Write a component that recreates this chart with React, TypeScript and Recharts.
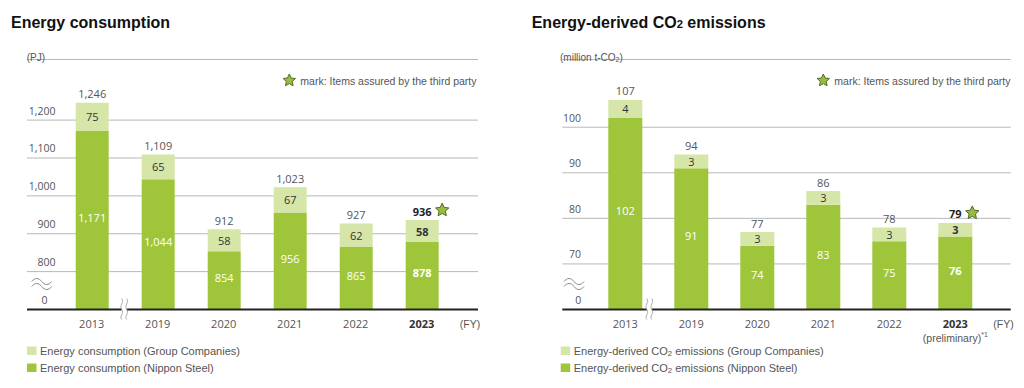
import React from "react"
import { BarChart, Bar, XAxis, YAxis, CartesianGrid, LabelList } from "recharts"

const years = ["2013", "2019", "2020", "2021", "2022", "2023"]

const energyNippon = [1171, 1044, 854, 956, 865, 878]
const energyGroup = [75, 65, 58, 67, 62, 58]
const energyTotal = [1246, 1109, 912, 1023, 927, 936]
const energyTicks = [700, 800, 900, 1000, 1100, 1200]
const energyTickLabels = ["0", "800", "900", "1,000", "1,100", "1,200"]

const co2Nippon = [102, 91, 74, 83, 75, 76]
const co2Group = [4, 3, 3, 3, 3, 3]
const co2Total = [107, 94, 77, 86, 78, 79]
const co2Ticks = [60, 70, 80, 90, 100]
const co2TickLabels = ["0", "70", "80", "90", "100"]

const NIPPON = "#9fc63b"
const GROUP = "#d6e6a9"
const TEXT = "#555"
const NUM_FONT = '"Open Sans", sans-serif'
const SANS = '"Liberation Sans", Arial, sans-serif'

const W = 512
const H = 388
const BASE_Y = 309.5
const TOP_Y = 59.5
const X_AXIS_H = 30
const Y_AXIS_W = 20

const fmt = (n: number) => n.toLocaleString("en-US")

const Star = ({ cx, cy, r = 7 }: { cx: number; cy: number; r?: number }) => {
  const pts: string[] = []
  for (let i = 0; i < 10; i++) {
    const rad = i % 2 === 0 ? r : r * 0.48
    const a = -Math.PI / 2 + (i * Math.PI) / 5
    pts.push(`${cx + rad * Math.cos(a)},${cy + rad * Math.sin(a)}`)
  }
  return <polygon points={pts.join(" ")} fill="#97bb45" stroke="#4f6f1f" strokeWidth={1} strokeLinejoin="round" />
}

// vertical wavy cut on the x axis
const BreakMark = ({ x, y }: { x: number; y: number }) => (
  <g>
    <rect x={x - 2.5} y={y - 3} width={5} height={6} fill="#fff" />
    <path d={`M${x - 2.5},${y - 11} c3,4 -3,7 0,11 c3,4 -3,7 0,10`} fill="none" stroke="#999" strokeWidth={0.8} />
    <path d={`M${x + 2.5},${y - 11} c3,4 -3,7 0,11 c3,4 -3,7 0,10`} fill="none" stroke="#999" strokeWidth={0.8} />
  </g>
)

// horizontal double tilde on the y axis
const AxisBreak = ({ x, y }: { x: number; y: number }) => (
  <g fill="none" stroke="#8a8a8a" strokeWidth={1}>
    <path d={`M${x - 10},${y - 2} c3,-4 7,-4 10,0 s7,4 10,0`} />
    <path d={`M${x - 10},${y + 3} c3,-4 7,-4 10,0 s7,4 10,0`} />
  </g>
)

// "CO2" with a lowered small 2, then the rest of the string back on the baseline
const co2 = (before: string, after: string) => (
  <>
    {before}CO<tspan fontSize="0.7em" dy={2}>2</tspan>
    <tspan dy={-2}>{after}</tspan>
  </>
)

interface PanelProps {
  left: number
  title: React.ReactNode
  unit: React.ReactNode
  nippon: number[]
  group: number[]
  total: number[]
  ticks: number[]
  tickLabels: string[]
  domain: [number, number]
  plotLeft: number
  plotRight: number
  padLeft: number
  padRight: number
  barSize: number
  labelRight: number
  zeroX: number
  tildeX: number
  breakDx: number
  starDx: number
  fyX: number
  markX: number
  titleX: number
  unitX: number
  legendX: number
  legend: [React.ReactNode, React.ReactNode]
  preliminary?: boolean
}

const Panel = (p: PanelProps) => {
  const rows = years.map((year, i) => ({ year, nippon: p.nippon[i], group: p.group[i] }))
  const last = years.length - 1

  const viewOf = (props: any) => props.viewBox ?? props

  const yTick = (props: any) => {
    const { y, payload } = props
    const idx = p.ticks.indexOf(Number(payload.value))
    const label = p.tickLabels[idx]
    if (idx === 0) {
      return (
        <g>
          <AxisBreak x={p.tildeX} y={BASE_Y - 26} />
          <text x={p.zeroX} y={y - 9.5} textAnchor="middle" dominantBaseline="central" fontSize={10.5} fill={TEXT} fontFamily={NUM_FONT}>{label}</text>
        </g>
      )
    }
    return (
      <text x={p.labelRight} y={y - 9.5} textAnchor="end" dominantBaseline="central" fontSize={10.5} fill={TEXT} fontFamily={NUM_FONT}>{label}</text>
    )
  }

  const xTick = (props: any) => {
    const { x, payload } = props
    const isLast = payload.value === years[last]
    return (
      <g>
        <text x={x} y={BASE_Y + 14} textAnchor="middle" dominantBaseline="central" fontSize={11} fontWeight={isLast ? 700 : 400} fill={isLast ? "#333" : TEXT} fontFamily={NUM_FONT}>{payload.value}</text>
        {isLast && p.preliminary && (
          <text x={x} y={BASE_Y + 28} textAnchor="middle" dominantBaseline="central" fontSize={10.5} fill={TEXT} fontFamily={SANS}>
            (preliminary)<tspan fontSize={7} dy={-4}>*1</tspan>
          </text>
        )}
        {payload.value === years[0] && <BreakMark x={x + p.breakDx} y={BASE_Y} />}
      </g>
    )
  }

  const nipponLabel = (props: any) => {
    const { x, y, width, height } = viewOf(props)
    const i = props.index
    const bottom = Math.min(y + height, BASE_Y)
    return (
      <text x={x + width / 2} y={(y + bottom) / 2 - 3} textAnchor="middle" dominantBaseline="central" fontSize={11} fontWeight={i === last ? 700 : 400} fill="#fff" fontFamily={NUM_FONT}>
        {fmt(p.nippon[i])}
      </text>
    )
  }

  const groupLabel = (props: any) => {
    const { x, y, width, height } = viewOf(props)
    const i = props.index
    return (
      <text x={x + width / 2} y={y + height / 2} textAnchor="middle" dominantBaseline="central" fontSize={11} fontWeight={i === last ? 700 : 400} fill="#333" fontFamily={NUM_FONT}>
        {fmt(p.group[i])}
      </text>
    )
  }

  const totalLabel = (props: any) => {
    const { x, y, width } = viewOf(props)
    const i = props.index
    const cx = x + width / 2
    return (
      <g>
        <text x={cx} y={y - 9} textAnchor="middle" dominantBaseline="central" fontSize={11} fontWeight={i === last ? 700 : 400} fill={i === last ? "#222" : TEXT} fontFamily={NUM_FONT}>
          {fmt(p.total[i])}
        </text>
        {i === last && <Star cx={cx + p.starDx} cy={y - 10} />}
      </g>
    )
  }

  return (
    <div style={{ position: "absolute", left: p.left, top: 0, width: W, height: H }}>
      <BarChart
        width={W}
        height={H}
        data={rows}
        barSize={p.barSize}
        margin={{ top: TOP_Y, right: W - p.plotRight, bottom: H - BASE_Y - X_AXIS_H, left: p.plotLeft - Y_AXIS_W }}
      >
        <CartesianGrid vertical={false} stroke="#b8b8b8" />
        <YAxis
          type="number"
          domain={p.domain}
          allowDataOverflow
          ticks={p.ticks}
          interval={0}
          width={Y_AXIS_W}
          axisLine={false}
          tickLine={false}
          tick={yTick}
        />
        <XAxis
          dataKey="year"
          height={X_AXIS_H}
          padding={{ left: p.padLeft, right: p.padRight }}
          axisLine={{ stroke: "#222", strokeWidth: 2 }}
          tickLine={false}
          interval={0}
          tick={xTick}
        />
        <Bar dataKey="nippon" stackId="s" fill={NIPPON} isAnimationActive={false}>
          <LabelList content={nipponLabel} />
        </Bar>
        <Bar dataKey="group" stackId="s" fill={GROUP} isAnimationActive={false}>
          <LabelList content={groupLabel} />
          <LabelList content={totalLabel} />
        </Bar>
      </BarChart>
      <svg width={W} height={H} style={{ position: "absolute", left: 0, top: 0, pointerEvents: "none" }}>
        <text x={p.titleX} y={22} dominantBaseline="central" fontSize={16} fontWeight={700} fill="#111" fontFamily={SANS}>{p.title}</text>
        <text x={p.unitX} y={57} dominantBaseline="central" fontSize={10} fill={TEXT} fontFamily={SANS}>{p.unit}</text>
        <Star cx={p.markX} cy={80.5} r={6.5} />
        <text x={p.markX + 11} y={81} dominantBaseline="central" fontSize={10.5} fill={TEXT} fontFamily={SANS}>mark: Items assured by the third party</text>
        <text x={p.fyX} y={BASE_Y + 14} textAnchor="middle" dominantBaseline="central" fontSize={10.5} fill={TEXT} fontFamily={SANS}>(FY)</text>
        <rect x={p.legendX} y={346.5} width={9.5} height={8.5} fill={GROUP} />
        <text x={p.legendX + 13} y={351} dominantBaseline="central" fontSize={11} fill={TEXT} fontFamily={SANS}>{p.legend[0]}</text>
        <rect x={p.legendX} y={363.5} width={9.5} height={8.5} fill={NIPPON} />
        <text x={p.legendX + 13} y={368} dominantBaseline="central" fontSize={11} fill={TEXT} fontFamily={SANS}>{p.legend[1]}</text>
      </svg>
    </div>
  )
}

export default function App() {
  return (
    <div style={{ position: "absolute", left: 0, top: 0, width: 1024, height: 388, background: "#fff" }}>
      <Panel
        left={0}
        title="Energy consumption"
        unit="(PJ)"
        nippon={energyNippon}
        group={energyGroup}
        total={energyTotal}
        ticks={energyTicks}
        tickLabels={energyTickLabels}
        domain={[700, 1360]}
        plotLeft={27}
        plotRight={478}
        padLeft={31.7}
        padRight={23.3}
        barSize={33}
        labelRight={55.5}
        zeroX={44.5}
        tildeX={41.7}
        breakDx={32.5}
        starDx={20}
        fyX={470}
        markX={289.3}
        titleX={11}
        unitX={26.7}
        legendX={27}
        legend={["Energy consumption (Group Companies)", "Energy consumption (Nippon Steel)"]}
      />
      <Panel
        left={512}
        title={co2("Energy-derived ", " emissions")}
        unit={co2("(million t-", ")")}
        nippon={co2Nippon}
        group={co2Group}
        total={co2Total}
        ticks={co2Ticks}
        tickLabels={co2TickLabels}
        domain={[60, 114.86]}
        plotLeft={50.3}
        plotRight={498.7}
        padLeft={30}
        padRight={22.4}
        barSize={34}
        labelRight={69}
        zeroX={66.3}
        tildeX={62}
        breakDx={24}
        starDx={17}
        fyX={491.5}
        markX={311.3}
        titleX={19.7}
        unitX={48}
        legendX={48.7}
        legend={[
          co2("Energy-derived ", " emissions (Group Companies)"),
          co2("Energy-derived ", " emissions (Nippon Steel)"),
        ]}
        preliminary
      />
    </div>
  )
}
